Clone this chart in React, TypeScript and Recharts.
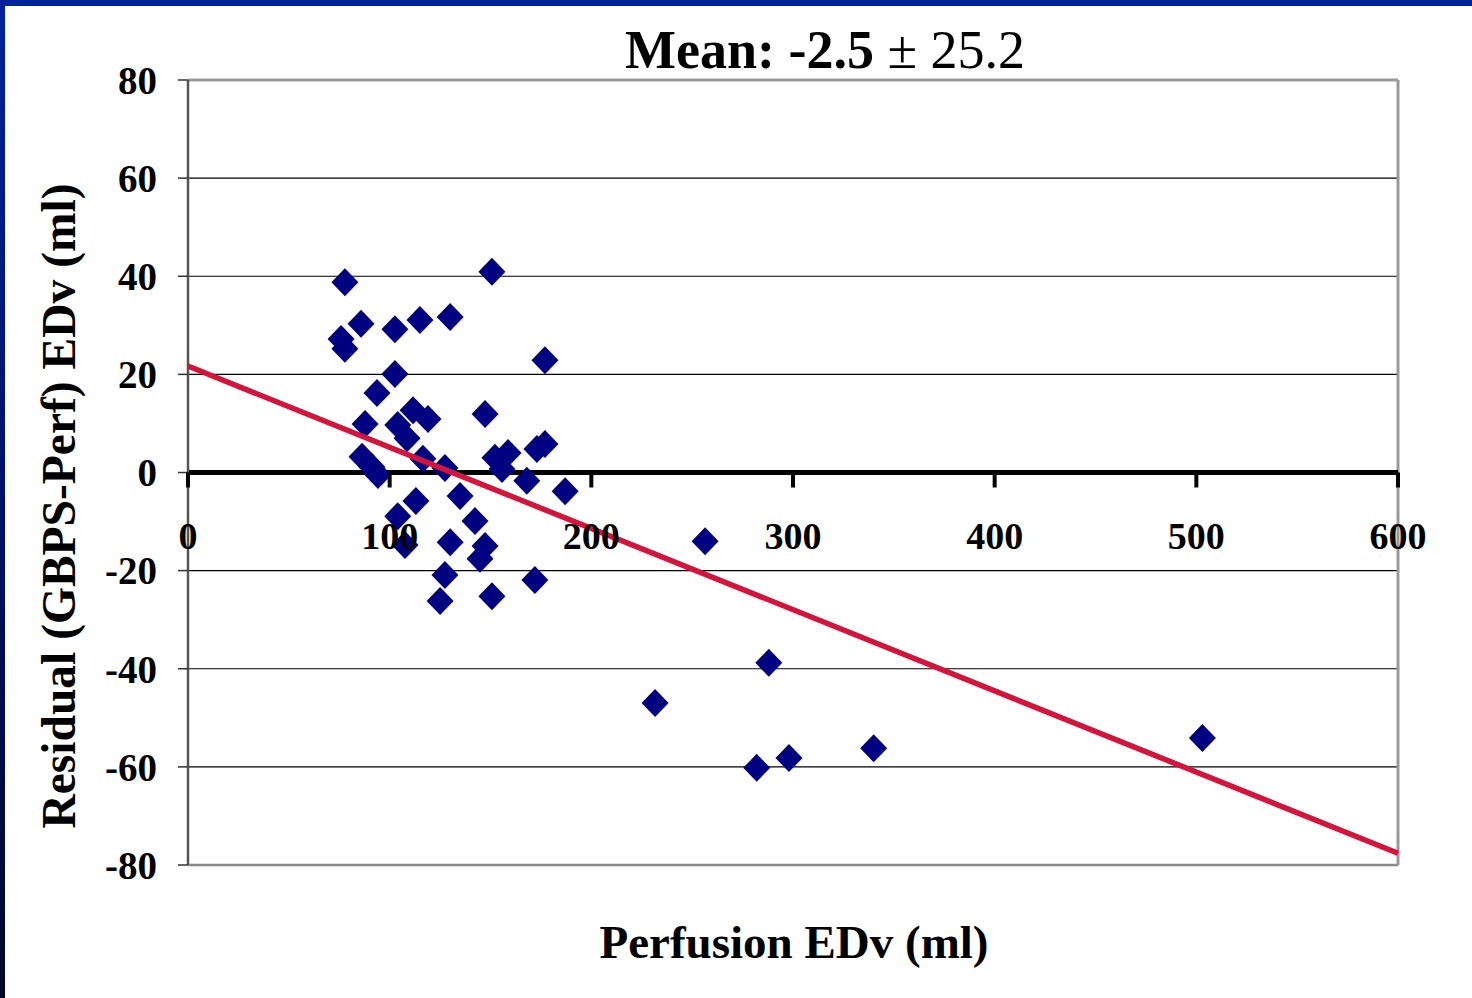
import {
  ScatterChart,
  Scatter,
  XAxis,
  YAxis,
  CartesianGrid,
  ReferenceLine,
} from "recharts";

// Perfusion EDv (ml) against residual (GBPS - Perf) EDv (ml)
const perfusionEdv = [
  77.8, 75.9, 77.8, 85.8, 102.6, 115, 130, 150.7, 177, 102.6,
  93.7, 87.8, 147.3, 104, 111.6, 119, 108.6, 86.3, 91.2, 94.2,
  116.5, 127.4, 152.2, 155.7, 158.7, 173, 177, 168, 187, 113,
  134.9, 104, 142.3, 107.6, 130, 147.3, 144.8, 127.4, 125, 150.7,
  172, 256.4, 231.6, 288, 282, 298, 340, 503,
];
const residual = [
  38.8, 27.2, 25.2, 30.3, 29.2, 31.1, 31.7, 40.9, 22.9, 20.1,
  16.2, 9.9, 11.9, 9.7, 12.7, 10.9, 7.0, 3.2, 1.1, -0.5,
  2.8, 0.9, 3.0, 0.7, 4.0, 4.8, 5.8, -1.7, -3.8, -5.8,
  -4.8, -8.9, -9.9, -14.8, -14.2, -15, -17.6, -20.9, -26.2, -25.2,
  -21.9, -14.0, -47, -38.8, -60.2, -58.2, -56.2, -54.1,
];

// fitted trend, end points at x = 0 and x = 600
const trendX = [0, 600];
const trendY = [21.7, -77.6];

const xTicks = [0, 100, 200, 300, 400, 500, 600];
const yTicks = [-80, -60, -40, -20, 0, 20, 40, 60, 80];

const points = perfusionEdv.map((x, i) => ({ x, y: residual[i] }));
const trend = trendX.map((x, i) => ({ x, y: trendY[i] }));

const W = 1472;
const H = 998;
const PLOT_TOP = 80;
const PLOT_BOTTOM = 865;
const ZERO_Y = (PLOT_TOP + PLOT_BOTTOM) / 2;

const SERIF = '"Liberation Serif", "Times New Roman", serif';
const NAVY = "#000080";
const RED = "#D3143C";

function Diamond(props: any) {
  const { cx, cy } = props;
  if (cx == null || cy == null) return null;
  const w = 13.5;
  const h = 14;
  return (
    <path
      d={`M${cx},${cy - h} L${cx + w},${cy} L${cx},${cy + h} L${cx - w},${cy} Z`}
      fill={NAVY}
    />
  );
}

// x ticks hang off the zero line rather than the bottom edge
function XTick(props: any) {
  const { x, payload } = props;
  return (
    <g>
      <line x1={x} x2={x} y1={ZERO_Y} y2={ZERO_Y + 15} stroke="#000" strokeWidth={4} />
      <text
        x={x}
        y={ZERO_Y + 76}
        textAnchor="middle"
        fontFamily={SERIF}
        fontWeight="bold"
        fontSize={38}
        fill="#000"
      >
        {payload.value}
      </text>
    </g>
  );
}

export default function App() {
  return (
    <div
      style={{
        position: "absolute",
        left: 0,
        top: 0,
        width: W,
        height: H,
        background: "#fff",
        overflow: "hidden",
      }}
    >
      <div style={{ position: "absolute", left: 0, top: 0, width: W, height: 6, background: "#00229A" }} />
      <div
        style={{
          position: "absolute",
          left: 0,
          top: 0,
          width: 5,
          height: H,
          background: "linear-gradient(#00229A, #001060 55%, #000828)",
        }}
      />
      <ScatterChart
        width={W}
        height={H}
        margin={{ top: 80, right: 74, bottom: 93, left: 88 }}
      >
        <CartesianGrid vertical={false} stroke="#000" strokeWidth={1.2} />
        <XAxis
          type="number"
          dataKey="x"
          domain={[0, 600]}
          ticks={xTicks}
          height={40}
          axisLine={false}
          tickLine={false}
          tick={<XTick />}
          interval={0}
        />
        <YAxis
          type="number"
          dataKey="y"
          domain={[-80, 80]}
          ticks={yTicks}
          width={100}
          interval={0}
          axisLine={{ stroke: "#555", strokeWidth: 2.5 }}
          tickLine={{ stroke: "#333", strokeWidth: 1.5 }}
          tickSize={10}
          tickMargin={21}
          tick={{ fontFamily: SERIF, fontWeight: "bold", fontSize: 39, fill: "#000" }}
        />
        <ReferenceLine y={80} stroke="#999" strokeWidth={3} />
        <ReferenceLine y={-80} stroke="#888" strokeWidth={2.5} />
        <ReferenceLine x={600} stroke="#999" strokeWidth={3} />
        <ReferenceLine y={0} stroke="#000" strokeWidth={5} />
        <Scatter data={points} shape={<Diamond />} isAnimationActive={false} />
        {/* trend line: two end points joined, no markers */}
        <Scatter
          data={trend}
          line={{ stroke: RED, strokeWidth: 5.5 }}
          shape={() => <g />}
          isAnimationActive={false}
        />
        <text x={825} y={68} textAnchor="middle" fontFamily={SERIF} fontSize={54} fill="#000">
          <tspan fontWeight="bold">Mean: -2.5</tspan>
          <tspan> ± 25.2</tspan>
        </text>
        <text
          x={794}
          y={958}
          textAnchor="middle"
          fontFamily={SERIF}
          fontWeight="bold"
          fontSize={47}
          fill="#000"
        >
          Perfusion EDv (ml)
        </text>
        <text
          x={75}
          y={506}
          transform="rotate(-90, 75, 506)"
          textAnchor="middle"
          fontFamily={SERIF}
          fontWeight="bold"
          fontSize={47.5}
          fill="#000"
        >
          Residual (GBPS-Perf) EDv (ml)
        </text>
      </ScatterChart>
    </div>
  );
}
